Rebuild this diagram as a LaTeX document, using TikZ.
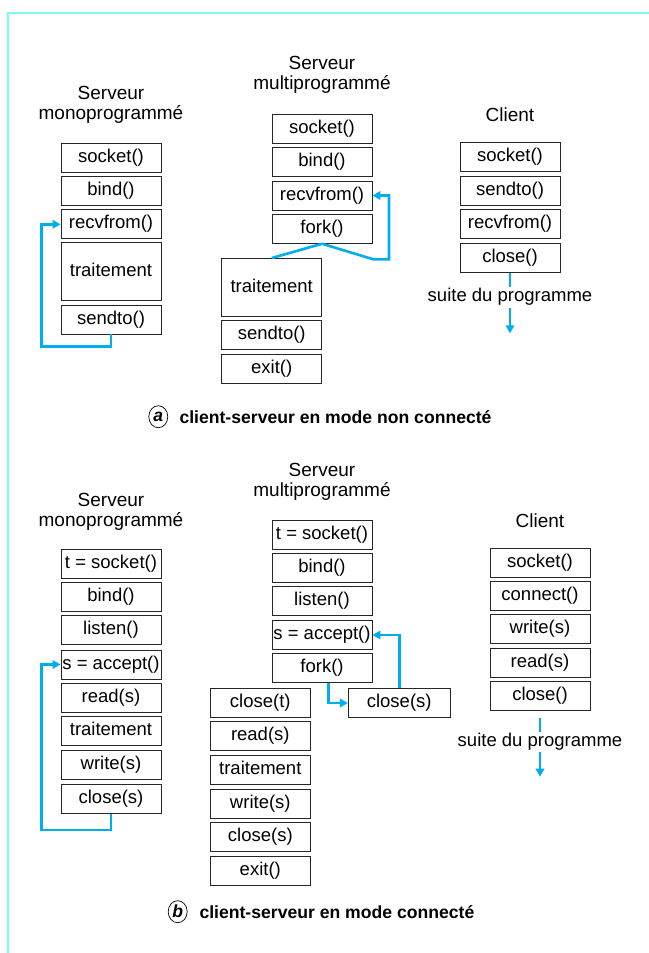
\documentclass[tikz,border=0pt]{standalone}
\usepackage{fontspec}
\setmainfont{Liberation Sans}
\usetikzlibrary{arrows.meta,shapes.geometric}
\definecolor{frameline}{RGB}{120,250,245}
\definecolor{flow}{RGB}{0,174,239}
\tikzset{
  txt/.style={font=\fontsize{18.5bp}{20bp}\selectfont},
  fn/.style={txt, draw=black!85, line width=0.9bp, minimum width=100bp,
    minimum height=29bp, inner sep=0pt, text height=13bp, text depth=3.8bp},
  tallfn/.style={fn, minimum height=58bp},
  hd/.style={font=\fontsize{19bp}{20bp}\selectfont, align=center, inner sep=0pt},
  flowline/.style={draw=flow, line width=2.6bp},
  flowarrow/.style={flowline, -{Triangle[length=8bp,width=8.5bp]}},
  tag/.style={ellipse, draw=black, line width=0.7bp, minimum width=19bp,
    minimum height=22bp, inner sep=0pt, font=\fontsize{17.5bp}{18bp}\selectfont\bfseries\itshape},
  capt/.style={anchor=west, inner sep=0pt, font=\fontsize{17.6bp}{20bp}\selectfont\bfseries}
}
\begin{document}
\begin{tikzpicture}[x=1bp, y=-1bp]
\useasboundingbox (0,0) rectangle (649,953);
% page frame
\draw[frameline, line width=2bp] (7.5,953) -- (7.5,13) -- (649,13);

% ---------------- (a) non connected ----------------
% single-process server
\node[hd] (amt) at (111,105) {Serveur\\monoprogrammé};
\node[fn] (am1) at (111,157.8) {socket()};
\node[fn] (am2) at (111,190.5) {bind()};
\node[fn] (am3) at (111,224.3) {recvfrom()};
\node[tallfn] (am4) at (111,271.7) {traitement};
\node[fn] (am5) at (111,319.5) {sendto()};
\coordinate (amb) at (111,346.7);
\coordinate (aml) at (41.7,346.7);
\draw[flowarrow] (am5.south) -- (amb) -- (aml) |- (am3.west);

% multi-process server
\node[hd] (apt) at (322,75) {Serveur\\multiprogrammé};
\node[fn] (ap1) at (322,128.8) {socket()};
\node[fn] (ap2) at (322,162.2) {bind()};
\node[fn] (ap3) at (322,195.5) {recvfrom()};
\node[fn] (ap4) at (322,228.8) {fork()};
\node[tallfn] (ap5) at (271.7,287.5) {traitement};
\node[fn] (ap6) at (271.7,335) {sendto()};
\node[fn] (ap7) at (271.7,368.7) {exit()};
\coordinate (apk) at (373.3,259.3);
\coordinate (apr) at (389,259.3);
\draw[flowline] (ap4.south) -- (ap5.north);
\draw[flowarrow] (ap4.south) -- (apk) -- (apr) |- (ap3.east);

% client
\node[hd] (act) at (510,115) {Client};
\node[fn] (ac1) at (510,157.2) {socket()};
\node[fn] (ac2) at (510,190.5) {sendto()};
\node[fn] (ac3) at (510,223.8) {recvfrom()};
\node[fn] (ac4) at (510,257.8) {close()};
\node[txt, inner sep=0pt] (acs) at (510,296.7) {suite du programme};
\coordinate (ace1) at (510,286.7);
\coordinate (ace2) at (510,308.3);
\coordinate (ace3) at (510,333.3);
\draw[flowline] (ac4.south) -- (ace1);
\draw[flowarrow] (ace2) -- (ace3);

% caption
\node[tag] (atag) at (158.3,416.7) {a};
\node[capt] (acap) at (179.3,417) {client-serveur en mode non connecté};

% ---------------- (b) connected ----------------
% single-process server
\node[hd] (bmt) at (111,511.7) {Serveur\\monoprogrammé};
\node[fn] (bm1) at (111,563.7) {t = socket()};
\node[fn] (bm2) at (111,597) {bind()};
\node[fn] (bm3) at (111,630) {listen()};
\node[fn] (bm4) at (111,664.5) {s = accept()};
\node[fn] (bm5) at (111,697.8) {read(s)};
\node[fn] (bm6) at (111,731.2) {traitement};
\node[fn] (bm7) at (111,765) {write(s)};
\node[fn] (bm8) at (111,798.7) {close(s)};
\coordinate (bmb) at (111,830);
\coordinate (bml) at (41.7,830);
\draw[flowarrow] (bm8.south) -- (bmb) -- (bml) |- (bm4.west);

% multi-process server
\node[hd] (bpt) at (322,482.3) {Serveur\\multiprogrammé};
\node[fn] (bp1) at (322,534.7) {t = socket()};
\node[fn] (bp2) at (322,567.8) {bind()};
\node[fn] (bp3) at (322,601.2) {listen()};
\node[fn] (bp4) at (322,635) {s = accept()};
\node[fn] (bp5) at (322,668.3) {fork()};
\node[fn] (bq1) at (260.3,702.5) {close(t)};
\node[fn] (bq2) at (260.3,736.2) {read(s)};
\node[fn] (bq3) at (260.3,769.5) {traitement};
\node[fn] (bq4) at (260.3,803.7) {write(s)};
\node[fn] (bq5) at (260.3,837.2) {close(s)};
\node[fn] (bq6) at (260.3,871.3) {exit()};
\node[fn, minimum width=101.7bp] (br1) at (399.2,703) {close(s)};
\coordinate (bpf) at (328.3,668.3);
\draw[flowarrow] (bpf |- bp5.south) |- (br1.west);
\draw[flowarrow] (br1.north) |- (bp4.east);

% client
\node[hd] (bct) at (540,520.7) {Client};
\node[fn] (bc1) at (540,562.5) {socket()};
\node[fn] (bc2) at (540,595.8) {connect()};
\node[fn] (bc3) at (540,629.2) {write(s)};
\node[fn] (bc4) at (540,662.5) {read(s)};
\node[fn] (bc5) at (540,696.2) {close()};
\node[txt, inner sep=0pt] (bcs) at (540,741.7) {suite du programme};
\coordinate (bce0) at (540,718.3);
\coordinate (bce1) at (540,731.7);
\coordinate (bce2) at (540,751.7);
\coordinate (bce3) at (540,776.7);
\draw[flowline] (bce0) -- (bce1);
\draw[flowarrow] (bce2) -- (bce3);

% caption
\node[tag] (btag) at (177.7,911.7) {b};
\node[capt] (bcap) at (199.3,912) {client-serveur en mode connecté};
\end{tikzpicture}
\end{document}
